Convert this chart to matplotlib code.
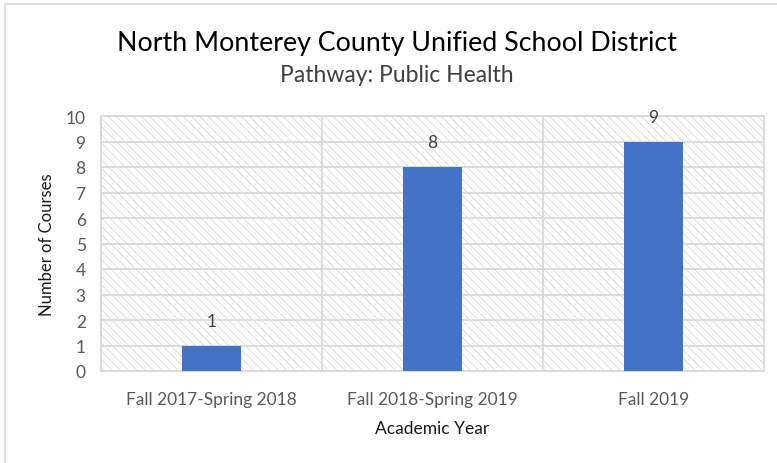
import matplotlib
matplotlib.use("Agg")
import matplotlib.pyplot as plt
from matplotlib.patches import Rectangle

categories = ["Fall 2017-Spring 2018", "Fall 2018-Spring 2019", "Fall 2019"]
values = [1, 8, 9]
yticks = list(range(0, 11))

plt.rcParams['font.family'] = ['Lato', 'DejaVu Sans']
plt.rcParams['hatch.linewidth'] = 0.6

fig = plt.figure(figsize=(7.77, 4.64), dpi=100)
# outer frame
fig.patches.append(Rectangle((5/777, -0.1), 1.2, 1 - 5/464 + 0.1, transform=fig.transFigure,
                             fill=False, edgecolor='#d9d9d9', linewidth=1.2))

ax = fig.add_axes([101/777, 1 - 372/464, (764 - 101)/777, (372 - 117)/464])
x = list(range(len(categories)))
ax.set_xlim(-0.5, len(categories) - 0.5)
ax.set_ylim(0, 10)

# hatched background
ax.add_patch(Rectangle((0, 0), 1, 1, transform=ax.transAxes, facecolor='white',
                       edgecolor='#d9d9d9', linewidth=0, hatch='\\\\\\\\', zorder=0))

# grid
for yv in yticks:
    ax.axhline(yv, color='#d9d9d9', linewidth=1.3, zorder=1)
for xv in [0.5, 1.5]:
    ax.axvline(xv, color='#d9d9d9', linewidth=1.3, zorder=1)

bars = ax.bar(x, values, width=0.27, color='#4472C4', zorder=3)
for xi, v in zip(x, values):
    ax.annotate(str(v), (xi, v), xytext=(0, 12), textcoords='offset points',
                ha='center', va='bottom', fontsize=12.5, color='#404040')

for s in ax.spines.values():
    s.set_color('#d9d9d9')
    s.set_linewidth(1.3)

ax.set_yticks(yticks)
ax.set_xticks(x)
ax.set_xticklabels(categories)
ax.tick_params(axis='both', length=0, labelsize=12.5, colors='#595959')
ax.tick_params(axis='x', pad=14.5)
ax.tick_params(axis='y', pad=11)

ax.set_xlabel("Academic Year", fontsize=12.5, color='#1a1a1a', labelpad=9)
ax.set_ylabel("Number of Courses", fontsize=12, color='#1a1a1a', labelpad=8)

fig.text(397/777, 1 - 43/464, "North Monterey County Unified School District",
         ha='center', va='center', fontsize=19.3, color='black')
fig.text(397/777, 1 - 75/464, "Pathway: Public Health",
         ha='center', va='center', fontsize=16.5, color='#404040')

fig.savefig("out.png", dpi=100)
